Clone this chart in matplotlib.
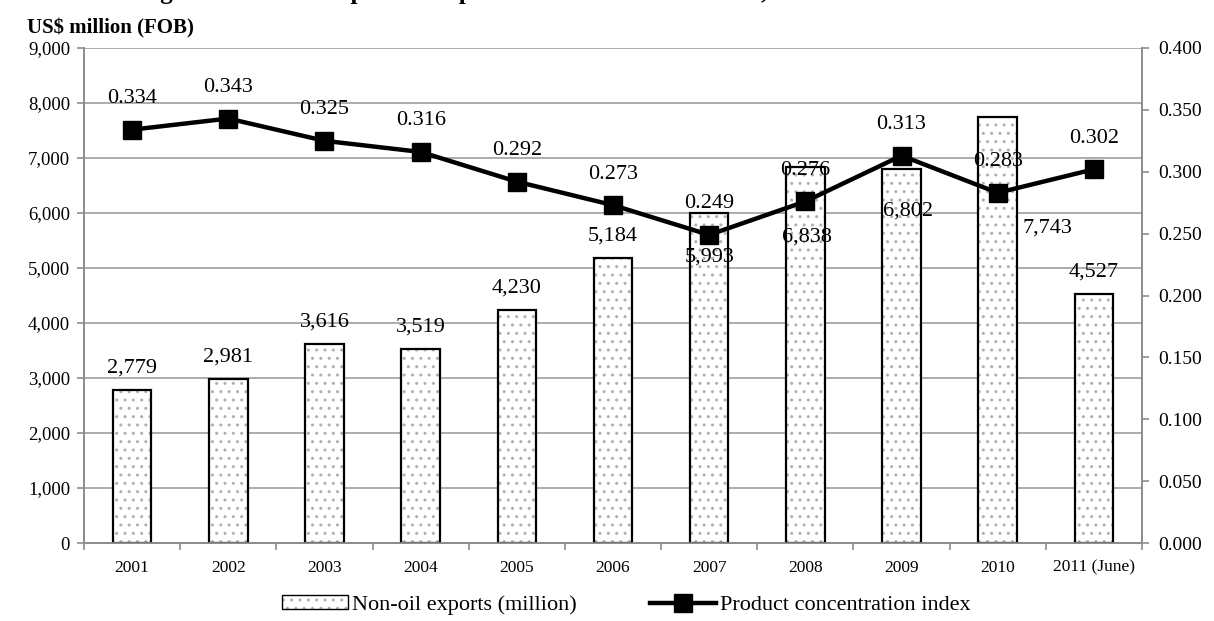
import matplotlib
matplotlib.use('Agg')
import matplotlib.pyplot as plt
from matplotlib.patches import Patch
from matplotlib.lines import Line2D
from matplotlib.legend_handler import HandlerTuple
import numpy as np

# ---- data ----
years = ['2001', '2002', '2003', '2004', '2005', '2006', '2007', '2008',
         '2009', '2010', '2011 (June)']
exports = [2779, 2981, 3616, 3519, 4230, 5184, 5993, 6838, 6802, 7743, 4527]
conc_index = [0.334, 0.343, 0.325, 0.316, 0.292, 0.273, 0.249, 0.276,
              0.313, 0.283, 0.302]
left_ticks = [0, 1000, 2000, 3000, 4000, 5000, 6000, 7000, 8000, 9000]
right_ticks = [0.0, 0.05, 0.1, 0.15, 0.2, 0.25, 0.3, 0.35, 0.4]

# label placement (pixel offsets, styling only)
bar_lbl_off = [(0, 22), (0, 22), (0, 22), (0, 22), (0, 22), (0, 22),
               (0, -44), (2, -70), (6, -42), (50, -111), (0, 22)]
line_lbl_off = 31

plt.rcParams['font.family'] = ['Liberation Serif', 'DejaVu Serif']
plt.rcParams['hatch.linewidth'] = 1.0

DPI = 100
W, H = 1214, 621
fig = plt.figure(figsize=(W / DPI, H / DPI), dpi=DPI)
L, R, B, T = 84, 1142, 543, 48
ax = fig.add_axes([L / W, 1 - B / H, (R - L) / W, (B - T) / H])
ax2 = ax.twinx()

GRID = '#A6A6A6'
SP = '#8C8C8C'
DOT = '#B0B0B0'
px2pt = 72 / DPI

x = np.arange(len(years))
# dotted fill (gray dots) + black outline
ax.bar(x, exports, width=0.40, facecolor='white', edgecolor=DOT,
       hatch='..', linewidth=0, zorder=2)
ax.bar(x, exports, width=0.40, facecolor='none', edgecolor='black',
       linewidth=1.6, zorder=3)

ax.set_xlim(-0.5, len(years) - 0.5)
ax.set_ylim(0, 9000)
ax.set_yticks(left_ticks)
ax.set_yticklabels([f'{v:,}' for v in left_ticks])
ax.yaxis.grid(True, color=GRID, linewidth=1.3)
ax.set_axisbelow(True)

ax.set_xticks(np.arange(-0.5, len(years), 1))
ax.set_xticklabels([])
ax.set_xticks(x, minor=True)
ax.set_xticklabels(years, minor=True, fontsize=12.5)
ax.tick_params(axis='x', which='major', length=5, color=SP, width=1.2)
ax.tick_params(axis='x', which='minor', length=0, pad=12)
ax.tick_params(axis='y', length=5, color=SP, width=1.2, labelsize=13.5, pad=5)

ax2.plot(x, conc_index, color='black', linewidth=3.2, marker='s',
         markersize=13, zorder=5)
ax2.set_ylim(0, 0.4)
ax2.set_yticks(right_ticks)
ax2.set_yticklabels([f'{v:.3f}' for v in right_ticks])
ax2.tick_params(axis='y', length=5, color=SP, width=1.2, labelsize=14, pad=7)

for a in (ax, ax2):
    for s in ('left', 'right', 'bottom'):
        a.spines[s].set_color(SP)
        a.spines[s].set_linewidth(1.2)
    a.spines['top'].set_visible(False)

# data labels
for i, v in enumerate(exports):
    dx, dy = bar_lbl_off[i]
    ax2.annotate(f'{v:,}', xy=(x[i], v), xycoords=ax.transData,
                 xytext=(dx * px2pt, dy * px2pt), textcoords='offset points',
                 ha='center', va='center', fontsize=16, zorder=6)
for i, v in enumerate(conc_index):
    ax2.annotate(f'{v:.3f}', xy=(x[i], v), xytext=(0, line_lbl_off * px2pt),
                 textcoords='offset points', ha='center', va='center',
                 fontsize=16, zorder=6)

# axis title and (clipped at the top edge, as in the source) figure caption
fig.text(27 / W, 1 - 28 / H, 'US$ million (FOB)', ha='left', va='center',
         fontsize=15, fontweight='bold')
fig.text(138 / W, 1 + 1.5 / H,
         'Figure 2: Non-oil exports and product concentration index, 2001-2011',
         ha='left', va='baseline', fontsize=18, fontweight='bold')

# legend
h_bar = (Patch(facecolor='white', edgecolor=DOT, hatch='..', linewidth=0),
         Patch(facecolor='none', edgecolor='black', linewidth=1.0))
h_line = Line2D([], [], color='black', linewidth=3.2, marker='s', markersize=13)
fig.legend([h_bar, h_line],
           ['Non-oil exports (million)', 'Product concentration index'],
           handler_map={tuple: HandlerTuple(ndivide=1, pad=0)},
           loc='center', bbox_to_anchor=(626 / W, 1 - 605 / H), ncol=2,
           frameon=False, fontsize=16, handlelength=3.0, handleheight=0.6,
           handletextpad=0.15, columnspacing=3.3)

fig.savefig('out.png', dpi=DPI)
